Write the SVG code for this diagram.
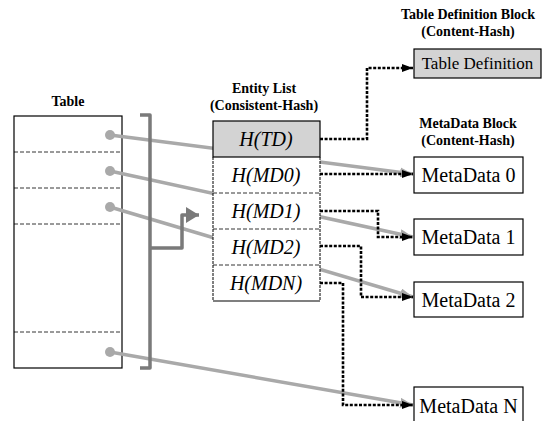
<svg xmlns="http://www.w3.org/2000/svg" width="548" height="421" viewBox="0 0 548 421">
  <style>
    text { font-family: "Liberation Serif", "DejaVu Serif", serif; fill: #000; text-anchor: middle; }
    .hdr { font-weight: bold; font-size: 14px; }
    .lbl { font-size: 20px; }
    .hash { font-style: italic; font-size: 20px; }
    .box { fill: #fff; stroke: #000; stroke-width: 1.2; }
    .grey { fill: #d3d3d3; stroke: #000; stroke-width: 1.2; }
    .row { stroke: #000; stroke-width: 0.8; stroke-dasharray: 4 2; fill: none; }
    .ref { stroke: #a9a9a9; stroke-width: 3.5; fill: none; marker-end: url(#greyHead); }
    .dot { fill: #a9a9a9; }
    .ptr { stroke: #000; stroke-width: 2.6; stroke-dasharray: 3 1.6; fill: none; marker-end: url(#blackHead); }
    .frame { stroke: #7a7a7a; stroke-width: 3.5; fill: none; stroke-linejoin: round; }
  </style>
  <defs>
    <marker id="greyHead" markerUnits="userSpaceOnUse" markerWidth="14" markerHeight="10" refX="13" refY="5" orient="auto">
      <path d="M0,0 L13,5 L0,10 Z" fill="#a9a9a9"/>
    </marker>
    <marker id="blackHead" markerUnits="userSpaceOnUse" markerWidth="12" markerHeight="8" refX="11" refY="4" orient="auto">
      <path d="M0,0 L11,4 L0,8 Z" fill="#000"/>
    </marker>
    <marker id="frameHead" markerUnits="userSpaceOnUse" markerWidth="14" markerHeight="16" refX="13" refY="8" orient="auto">
      <path d="M0,0 L13,8 L0,16 Z" fill="#7a7a7a"/>
    </marker>
  </defs>

  <!-- headings -->
  <text class="hdr" x="68" y="106" font-family="Liberation Serif, serif">Table</text>
  <text class="hdr" x="264" y="93">Entity List</text>
  <text class="hdr" x="264" y="110">(Consistent-Hash)</text>
  <text class="hdr" x="468" y="19">Table Definition Block</text>
  <text class="hdr" x="468" y="36">(Content-Hash)</text>
  <text class="hdr" x="468" y="128">MetaData Block</text>
  <text class="hdr" x="468" y="145">(Content-Hash)</text>

  <!-- table with its rows -->
  <g id="table">
    <rect class="box" x="14" y="116" width="108" height="252"/>
    <line class="row" x1="14" y1="152" x2="122" y2="152"/>
    <line class="row" x1="14" y1="188" x2="122" y2="188"/>
    <line class="row" x1="14" y1="224" x2="122" y2="224"/>
    <line class="row" x1="14" y1="332" x2="122" y2="332"/>
  </g>

  <!-- references from table rows to content blocks (drawn beneath the entity list) -->
  <g id="connectors">
    <line class="ref" x1="110" y1="135" x2="413" y2="174"/>
    <line class="ref" x1="110" y1="171" x2="413" y2="237"/>
    <line class="ref" x1="110" y1="207" x2="413" y2="297"/>
    <line class="ref" x1="110" y1="352" x2="413" y2="405"/>
    <circle class="dot" cx="110" cy="135" r="5"/>
    <circle class="dot" cx="110" cy="171" r="5"/>
    <circle class="dot" cx="110" cy="207" r="5"/>
    <circle class="dot" cx="110" cy="352" r="5"/>

    <!-- bracket grouping the table and its arrow into the entity list -->
    <path class="frame" d="M140,115 H150 V368 H140"/>
    <path class="frame" d="M150,248 H182 V215 H199" marker-end="url(#frameHead)"/>

    <!-- hash pointers -->
    <path class="ptr" d="M320,139 H367 V68 H413"/>
    <path class="ptr" d="M320,174 H413"/>
    <path class="ptr" d="M320,211 H378 V237 H413"/>
    <path class="ptr" d="M320,246 H361 V297 H413"/>
    <path class="ptr" d="M320,283 H343 V405 H413"/>
  </g>

  <!-- entity list -->
  <g id="entity-list">
    <rect x="213" y="157" width="107" height="144" fill="#fff"/>
    <rect class="grey" x="213" y="121" width="107" height="36"/>
    <line x1="213" y1="157" x2="213" y2="301" stroke="#000" stroke-width="1" stroke-dasharray="3 1"/>
    <line x1="320" y1="157" x2="320" y2="301" stroke="#000" stroke-width="1" stroke-dasharray="3 1"/>
    <line x1="213" y1="301" x2="320" y2="301" stroke="#000" stroke-width="1.2"/>
    <line class="row" x1="213" y1="193" x2="320" y2="193"/>
    <line class="row" x1="213" y1="229" x2="320" y2="229"/>
    <line class="row" x1="213" y1="265" x2="320" y2="265"/>
    <text class="hash" x="266" y="146">H(TD)</text>
    <text class="hash" x="266" y="182">H(MD0)</text>
    <text class="hash" x="266" y="218">H(MD1)</text>
    <text class="hash" x="266" y="254">H(MD2)</text>
    <text class="hash" x="266" y="290">H(MDN)</text>
  </g>

  <g id="table-definition">
    <rect class="grey" x="414" y="49" width="127" height="29"/>
    <text class="lbl" x="477.5" y="69" style="font-size:17px">Table Definition</text>
  </g>
  <g id="metadata-0">
    <rect class="box" x="414" y="157" width="109" height="36"/>
    <text class="lbl" x="468.5" y="182">MetaData 0</text>
  </g>
  <g id="metadata-1">
    <rect class="box" x="414" y="219" width="109" height="36"/>
    <text class="lbl" x="468.5" y="244">MetaData 1</text>
  </g>
  <g id="metadata-2">
    <rect class="box" x="414" y="282" width="109" height="35"/>
    <text class="lbl" x="468.5" y="307">MetaData 2</text>
  </g>
  <g id="metadata-n">
    <rect class="box" x="414" y="387" width="109" height="36"/>
    <text class="lbl" x="468.5" y="413">MetaData N</text>
  </g>
</svg>
